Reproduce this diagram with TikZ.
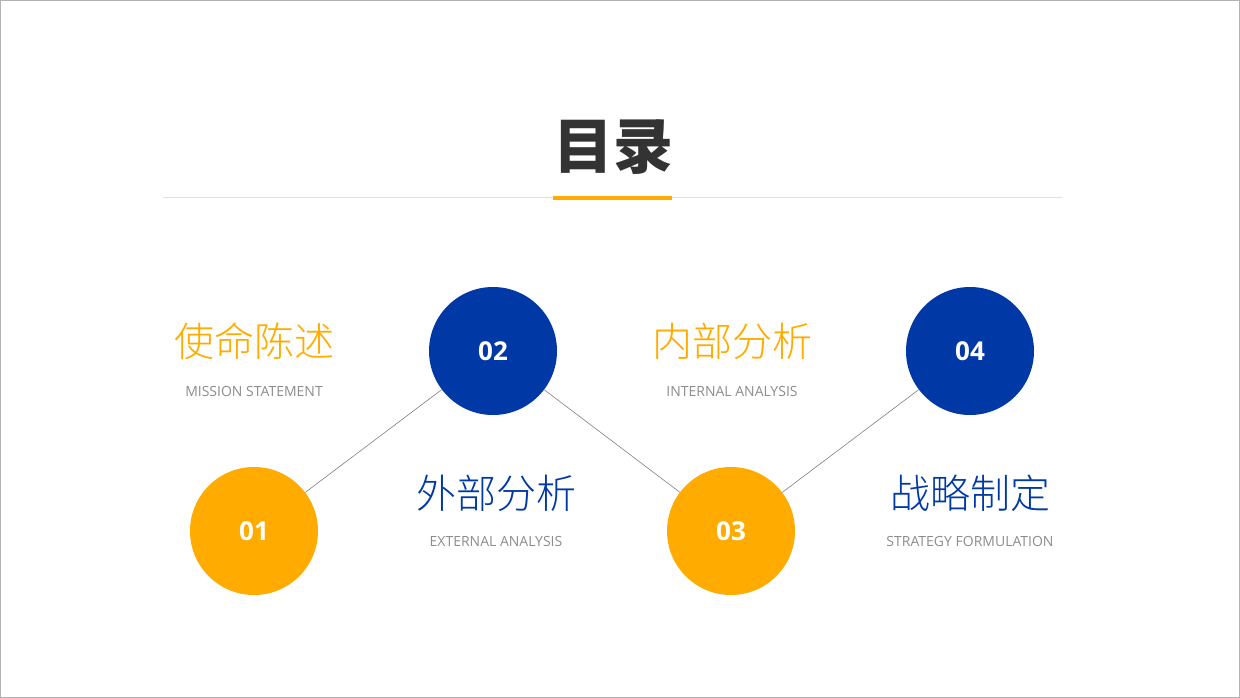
\documentclass[tikz,border=0pt]{standalone}
\usepackage{fontspec}
\setmainfont{Open Sans}
\newfontfamily\cjk{Noto Sans CJK SC}
\newfontfamily\cjklight{Noto Sans CJK SC Light}
\definecolor{org}{HTML}{FFAB00}
\definecolor{blu}{HTML}{0039A6}
\definecolor{gtx}{HTML}{8C8C8C}
\begin{document}
\begin{tikzpicture}[x=1pt,y=-1pt,
  num/.style={circle,minimum size=128pt,inner sep=0pt,text=white,font=\fontsize{26}{26}\selectfont\bfseries},
  zh/.style={font=\cjklight\fontsize{40}{40}\selectfont},
  en/.style={text=gtx,font=\fontsize{14}{14}\selectfont}]
\useasboundingbox (0,0) rectangle (1240,698);
\draw[gray!60,line width=1pt] (0.5,0.5) rectangle (1239.5,697.5);
\node[font=\cjk\bfseries\fontsize{60}{60}\selectfont,text=black!80] (title) at (613,147) {目录};
\draw[black!12,line width=1pt] (163,197) -- (1062,197);
\draw[org,line width=4pt] (553,198) -- (672,198);
\node[num,fill=org] (c1) at (254,531) {01};
\node[num,fill=blu] (c2) at (493,351) {02};
\node[num,fill=org] (c3) at (731,531) {03};
\node[num,fill=blu] (c4) at (970,351) {04};
\draw[gray,line width=0.6pt] (c1) -- (c2) -- (c3) -- (c4);
\node[zh,text=org] (t1) at (254,341) {使命陈述};
\node[en] (e1) at (254,391) {MISSION STATEMENT};
\node[zh,text=blu] (t2) at (496,493) {外部分析};
\node[en] (e2) at (496,541) {EXTERNAL ANALYSIS};
\node[zh,text=org] (t3) at (732,341) {内部分析};
\node[en] (e3) at (732,391) {INTERNAL ANALYSIS};
\node[zh,text=blu] (t4) at (970,493) {战略制定};
\node[en] (e4) at (970,541) {STRATEGY FORMULATION};
\end{tikzpicture}
\end{document}
